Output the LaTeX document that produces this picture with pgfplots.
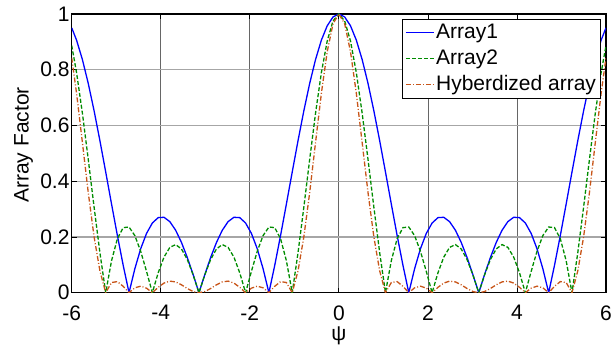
\documentclass[border=0pt]{standalone}
\usepackage{fontspec}
\setmainfont{Liberation Sans}
\usepackage{pgfplots}
\pgfplotsset{compat=1.18}
\usepackage{pgfplotstable}
\definecolor{c1}{RGB}{0,0,255}
\definecolor{c2}{RGB}{0,140,0}
\definecolor{c3}{RGB}{200,85,25}
\pgfplotstableread{
psi a1 a2 h
-6.0000 0.9506 0.8870 0.8432
-5.8905 0.9061 0.7893 0.7152
-5.7596 0.8365 0.6440 0.5387
-5.6287 0.7513 0.4790 0.3599
-5.4978 0.6533 0.3080 0.2012
-5.3669 0.5460 0.1442 0.0787
-5.2360 0.4330 0.0000 0.0000
-5.1051 0.3182 0.1148 0.0365
-4.9742 0.2053 0.1936 0.0398
-4.8433 0.0981 0.2335 0.0229
-4.7124 0.0000 0.2357 0.0000
-4.5815 0.0861 0.2048 0.0176
-4.4506 0.1576 0.1486 0.0234
-4.3197 0.2126 0.0767 0.0163
-4.1888 0.2500 0.0000 0.0000
-4.0579 0.2693 0.0711 0.0192
-3.9270 0.2706 0.1276 0.0345
-3.7961 0.2550 0.1626 0.0415
-3.6652 0.2241 0.1726 0.0387
-3.5343 0.1802 0.1570 0.0283
-3.4034 0.1261 0.1189 0.0150
-3.2725 0.0648 0.0639 0.0041
-3.1416 0.0000 0.0000 0.0000
-3.0107 0.0648 0.0639 0.0041
-2.8798 0.1261 0.1189 0.0150
-2.7489 0.1802 0.1570 0.0283
-2.6180 0.2241 0.1726 0.0387
-2.4871 0.2550 0.1626 0.0415
-2.3562 0.2706 0.1276 0.0345
-2.2253 0.2693 0.0711 0.0192
-2.0944 0.2500 0.0000 0.0000
-1.9635 0.2126 0.0767 0.0163
-1.8326 0.1576 0.1486 0.0234
-1.7017 0.0861 0.2048 0.0176
-1.5708 0.0000 0.2357 0.0000
-1.4399 0.0981 0.2335 0.0229
-1.3090 0.2053 0.1936 0.0398
-1.1781 0.3182 0.1148 0.0365
-1.0472 0.4330 0.0000 0.0000
-0.9163 0.5460 0.1442 0.0787
-0.7854 0.6533 0.3080 0.2012
-0.6545 0.7513 0.4790 0.3599
-0.5236 0.8365 0.6440 0.5387
-0.3927 0.9061 0.7893 0.7152
-0.2618 0.9576 0.9029 0.8646
-0.1309 0.9894 0.9752 0.9649
0.0000 1.0000 1.0000 1.0000
0.1309 0.9894 0.9752 0.9649
0.2618 0.9576 0.9029 0.8646
0.3927 0.9061 0.7893 0.7152
0.5236 0.8365 0.6440 0.5387
0.6545 0.7513 0.4790 0.3599
0.7854 0.6533 0.3080 0.2012
0.9163 0.5460 0.1442 0.0787
1.0472 0.4330 0.0000 0.0000
1.1781 0.3182 0.1148 0.0365
1.3090 0.2053 0.1936 0.0398
1.4399 0.0981 0.2335 0.0229
1.5708 0.0000 0.2357 0.0000
1.7017 0.0861 0.2048 0.0176
1.8326 0.1576 0.1486 0.0234
1.9635 0.2126 0.0767 0.0163
2.0944 0.2500 0.0000 0.0000
2.2253 0.2693 0.0711 0.0192
2.3562 0.2706 0.1276 0.0345
2.4871 0.2550 0.1626 0.0415
2.6180 0.2241 0.1726 0.0387
2.7489 0.1802 0.1570 0.0283
2.8798 0.1261 0.1189 0.0150
3.0107 0.0648 0.0639 0.0041
3.1416 0.0000 0.0000 0.0000
3.2725 0.0648 0.0639 0.0041
3.4034 0.1261 0.1189 0.0150
3.5343 0.1802 0.1570 0.0283
3.6652 0.2241 0.1726 0.0387
3.7961 0.2550 0.1626 0.0415
3.9270 0.2706 0.1276 0.0345
4.0579 0.2693 0.0711 0.0192
4.1888 0.2500 0.0000 0.0000
4.3197 0.2126 0.0767 0.0163
4.4506 0.1576 0.1486 0.0234
4.5815 0.0861 0.2048 0.0176
4.7124 0.0000 0.2357 0.0000
4.8433 0.0981 0.2335 0.0229
4.9742 0.2053 0.1936 0.0398
5.1051 0.3182 0.1148 0.0365
5.2360 0.4330 0.0000 0.0000
5.3669 0.5460 0.1442 0.0787
5.4978 0.6533 0.3080 0.2012
5.6287 0.7513 0.4790 0.3599
5.7596 0.8365 0.6440 0.5387
5.8905 0.9061 0.7893 0.7152
6.0000 0.9506 0.8870 0.8432
}\data
\begin{document}
\fontsize{21}{25}\selectfont
\begin{tikzpicture}
\begin{axis}[
  scale only axis, width=534.3pt, height=278.7pt,
  xmin=-6, xmax=6, ymin=0, ymax=1,
  xtick={-6,-4,-2,0,2,4,6},
  ytick={0,0.2,0.4,0.6,0.8,1},
  /pgf/number format/assume math mode=true,
  tick label style={font=\fontsize{21}{25}\selectfont, inner ysep=0.5pt},
  yticklabel style={inner xsep=2pt},
  xticklabel style={yshift=-12pt},
  label style={font=\fontsize{21}{25}\selectfont},
  xmajorgrids, ymajorgrids,
  x grid style={black!60, line width=0.8pt},
  y grid style={black!35, line width=1.3pt},
  axis line style={line width=1.2pt},
  major tick length=5pt,
  tick style={black, line width=0.8pt},
  xlabel={ψ}, ylabel={Array Factor},
  xlabel style={at={(axis description cs:0.5,-0.155)}, anchor=center},
  ylabel style={at={(axis description cs:-0.09,0.53)}, anchor=center},
  legend style={at={(axis description cs:1,1)}, anchor=north east,
    xshift=-5pt, yshift=-5pt, font=\fontsize{21}{25}\selectfont,
    draw=black, line width=1pt, inner xsep=3pt, inner ysep=3pt,
    row sep=5pt, nodes={inner sep=1.5pt}},
  legend cell align=left,
  legend image code/.code={\draw[#1] (0pt,0pt) -- (28pt,0pt);},
]
\addplot[c1, line width=1.3pt] table[x=psi, y=a1] {\data};
\addlegendentry{Array1}
\addplot[c2, line width=1.3pt, dash pattern=on 4pt off 2pt] table[x=psi, y=a2] {\data};
\addlegendentry{Array2}
\addplot[c3, line width=1.3pt, dash pattern=on 5pt off 2pt on 1pt off 2pt] table[x=psi, y=h] {\data};
\addlegendentry{Hyberdized array}
\end{axis}
\pgfresetboundingbox
\path[use as bounding box] ([xshift=-71.7pt,yshift=-55.3pt]current axis.south west) rectangle ++(613pt,348pt);
\end{tikzpicture}
\end{document}
